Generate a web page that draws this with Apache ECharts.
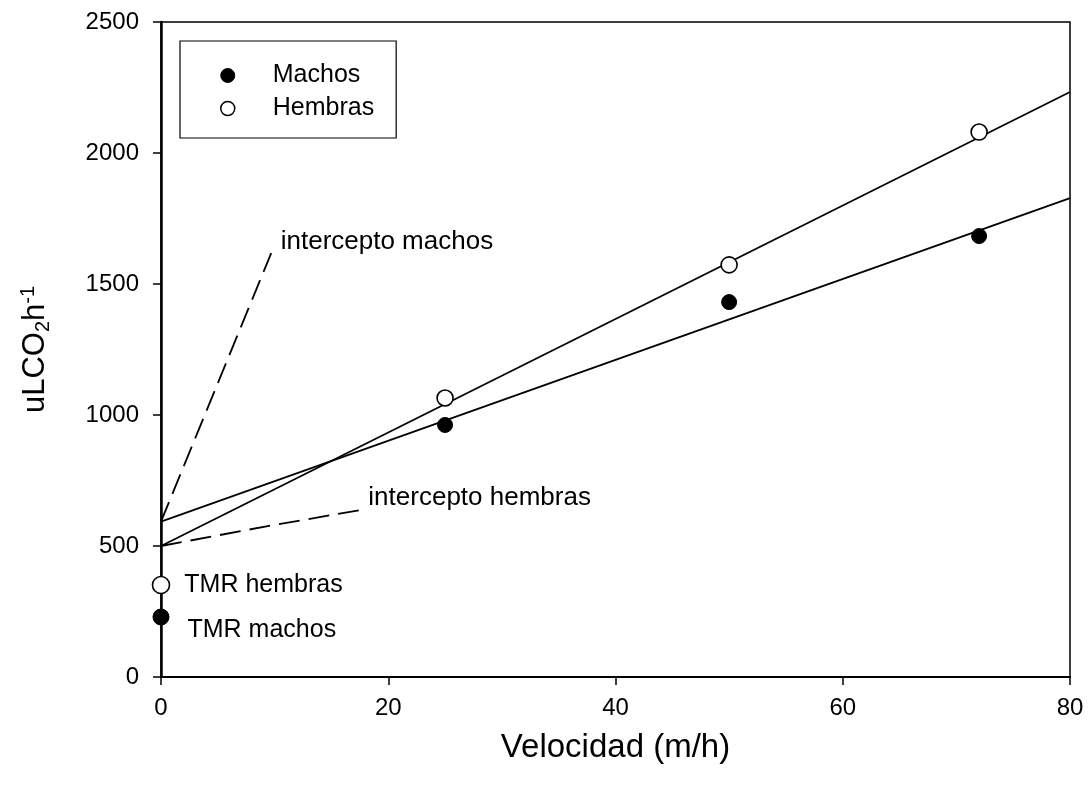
<!DOCTYPE html>
<html>
<head>
<meta charset="utf-8">
<script src="https://cdn.jsdelivr.net/npm/echarts@6/dist/echarts.min.js"></script>
<style>
html,body{margin:0;padding:0;background:#fff;}
#chart{width:1091px;height:788px;}
</style>
</head>
<body>
<div id="chart"></div>
<script>
// ---- data ----
var xTicks = [0, 20, 40, 60, 80];
var yTicks = [0, 500, 1000, 1500, 2000, 2500];
var velocidad = [25, 50, 72];
var machos = [962, 1431, 1683];
var hembras = [1065, 1573, 2080];
var tmrMachos = [0, 229];
var tmrHembras = [0, 351];
// regression lines (endpoints at x=0 and x=80)
var lineaX = [0, 80];
var lineaMachos = [593, 1828];
var lineaHembras = [500, 2233];
// intercept (dashed) guides
var intMachosX = [0, 9.7];
var intMachosY = [593, 1618];
var intHembrasX = [0, 9.4, 17.5];
var intHembrasY = [500, 576, 637];

var FONT = "'Liberation Sans', Arial, Helvetica, sans-serif";

function pairs(xs, ys) { return xs.map(function (x, i) { return [x, ys[i]]; }); }

var chart = echarts.init(document.getElementById('chart'), null, {renderer: 'canvas'});

var option = {
  backgroundColor: '#fff',
  animation: false,
  textStyle: {fontFamily: FONT, color: '#000'},
  grid: {
    left: 161, right: 21, top: 22, bottom: 111,
    show: true, borderColor: '#000', borderWidth: 1.5, backgroundColor: 'transparent'
  },
  legend: {
    left: 180, top: 41,
    orient: 'vertical',
    data: [
      {name: 'Machos', icon: 'circle', itemStyle: {color: '#000', borderColor: '#000', borderWidth: 1, opacity: 1}},
      {name: 'Hembras', icon: 'circle', itemStyle: {color: '#fff', borderColor: '#000', borderWidth: 1.5, opacity: 1}}
    ],
    itemWidth: 14, itemHeight: 14, itemGap: 8,
    padding: [22, 22, 17, 40],
    borderColor: '#000', borderWidth: 1.2, borderRadius: 0,
    backgroundColor: '#fff',
    textStyle: {fontFamily: FONT, fontSize: 25, color: '#000', lineHeight: 25, padding: [0, 0, 0, 33]},
    selectedMode: false
  },
  xAxis: {
    type: 'value',
    min: xTicks[0], max: xTicks[xTicks.length - 1], interval: 20,
    name: 'Velocidad (m/h)', nameLocation: 'middle', nameGap: 54,
    nameTextStyle: {fontFamily: FONT, fontSize: 33, color: '#000'},
    axisLine: {show: true, onZero: false, lineStyle: {color: '#000', width: 2}},
    axisTick: {show: true, inside: false, length: 8, lineStyle: {color: '#000', width: 1.5}},
    axisLabel: {fontFamily: FONT, fontSize: 24, color: '#000', margin: 19,
                formatter: function (v) { return String(v); }},
    splitLine: {show: false}
  },
  yAxis: {
    type: 'value',
    min: yTicks[0], max: yTicks[yTicks.length - 1], interval: 500,
    name: '{a|uLCO}{b|2}{a|h}{c|-1}', nameLocation: 'middle', nameGap: 108,
    nameTextStyle: {
      fontFamily: FONT, color: '#000',
      rich: {
        a: {fontFamily: FONT, fontSize: 31, color: '#000', lineHeight: 35},
        b: {fontFamily: FONT, fontSize: 20, color: '#000', lineHeight: 20, verticalAlign: 'bottom'},
        c: {fontFamily: FONT, fontSize: 20, color: '#000', lineHeight: 20, verticalAlign: 'top'}
      }
    },
    axisLine: {show: true, onZero: false, lineStyle: {color: '#000', width: 2.5}},
    axisTick: {show: true, inside: false, length: 8, lineStyle: {color: '#000', width: 1.5}},
    axisLabel: {fontFamily: FONT, fontSize: 24, color: '#000', margin: 22,
                formatter: function (v) { return String(v); }},
    splitLine: {show: false}
  },
  series: [
    {
      name: 'reg machos', type: 'line', data: pairs(lineaX, lineaMachos),
      showSymbol: false, symbol: 'none', silent: true, z: 2,
      lineStyle: {color: '#000', width: 1.8, opacity: 1}
    },
    {
      name: 'reg hembras', type: 'line', data: pairs(lineaX, lineaHembras),
      showSymbol: false, symbol: 'none', silent: true, z: 2,
      lineStyle: {color: '#000', width: 1.8, opacity: 1}
    },
    {
      name: 'int machos', type: 'line', data: pairs(intMachosX, intMachosY),
      showSymbol: false, symbol: 'none', silent: true, z: 2,
      lineStyle: {color: '#000', width: 1.8, type: [21, 9], opacity: 1}
    },
    {
      name: 'int hembras', type: 'line', data: pairs(intHembrasX, intHembrasY),
      showSymbol: false, symbol: 'none', silent: true, z: 2,
      lineStyle: {color: '#000', width: 1.8, type: [21, 9], opacity: 1}
    },
    {
      name: 'etiquetas', type: 'scatter', symbolSize: 1, silent: true, z: 3,
      itemStyle: {color: 'rgba(0,0,0,0)', opacity: 1},
      data: [
        {value: [intMachosX[1], intMachosY[1]],
         label: {show: true, position: 'right', formatter: 'intercepto machos', offset: [4, -11]}},
        {value: [intHembrasX[2], intHembrasY[2]],
         label: {show: true, position: 'right', formatter: 'intercepto hembras', offset: [3, -12]}}
      ],
      label: {fontFamily: FONT, fontSize: 26, color: '#000', opacity: 1}
    },
    {
      name: 'Machos', type: 'scatter', symbol: 'circle', symbolSize: 15, z: 5,
      data: pairs(velocidad, machos),
      itemStyle: {color: '#000', borderColor: '#000', borderWidth: 1, opacity: 1}
    },
    {
      name: 'Hembras', type: 'scatter', symbol: 'circle', symbolSize: 16, z: 5,
      data: pairs(velocidad, hembras),
      itemStyle: {color: '#fff', borderColor: '#000', borderWidth: 1.6, opacity: 1}
    },
    {
      name: 'TMR machos', type: 'scatter', symbol: 'circle', symbolSize: 16, z: 6,
      data: [tmrMachos],
      itemStyle: {color: '#000', borderColor: '#000', borderWidth: 1, opacity: 1},
      label: {show: true, position: 'right', formatter: 'TMR machos', offset: [13, 13],
              fontFamily: FONT, fontSize: 25, color: '#000', opacity: 1}
    },
    {
      name: 'TMR hembras', type: 'scatter', symbol: 'circle', symbolSize: 17, z: 6,
      data: [tmrHembras],
      itemStyle: {color: '#fff', borderColor: '#000', borderWidth: 1.6, opacity: 1},
      label: {show: true, position: 'right', formatter: 'TMR hembras', offset: [9, 0],
              fontFamily: FONT, fontSize: 25, color: '#000', opacity: 1}
    }
  ]
};
chart.setOption(option);
</script>
</body>
</html>
